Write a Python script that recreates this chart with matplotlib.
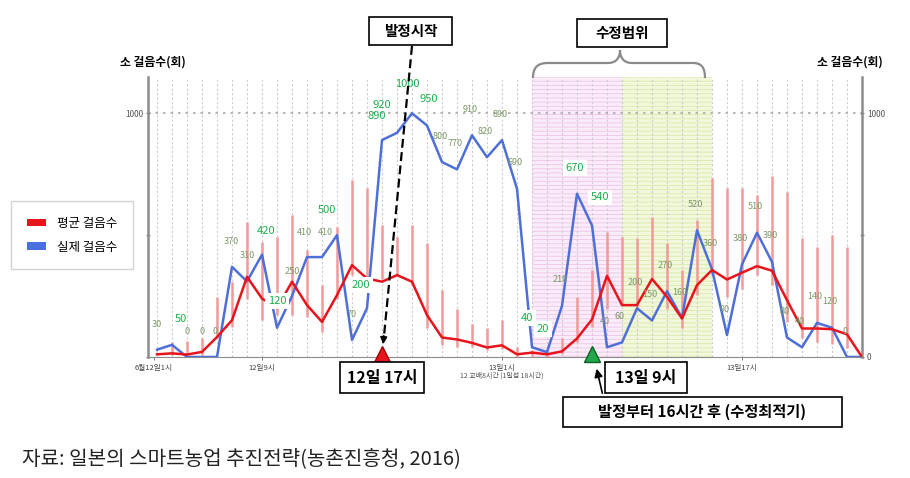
import numpy as np
import matplotlib.pyplot as plt
from matplotlib.patches import Patch, PathPatch, Rectangle
from matplotlib.path import Path
from matplotlib.lines import Line2D

plt.rcParams['font.family'] = ['Noto Sans CJK KR', 'DejaVu Sans']
plt.rcParams['hatch.linewidth'] = 0.6

W, H = 910, 478

# hourly data (index 0 = first hour on the axis)
hours = np.arange(48)

# 실제 걸음수 (blue line)
actual = [30, 50, 0, 0, 0, 370, 310, 420, 120, 250, 410, 410, 500, 70, 200,
          890, 920, 1000, 950, 800, 770, 910, 820, 890, 690, 40, 20, 210, 670, 540,
          40, 60, 200, 150, 270, 160, 520, 360, 90, 380, 510, 390, 80, 40, 140, 120, 0, 0]

# 평균 걸음수 (red line)
mean = [11, 15, 10, 21, 82, 151, 329, 240, 200, 309, 213, 144, 254, 377, 322,
        309, 336, 309, 172, 80, 72, 58, 39, 48, 11, 18, 11, 23, 76, 154,
        333, 213, 213, 320, 247, 158, 295, 357, 318, 346, 373, 354, 233, 117, 117, 114, 93, 0]

# range bars around the mean
bar_lo = [np.nan, 7, 0, 7, 76, 123, 240, 151, 172, 172, 165, 103, 240, 336, 322,
          322, 336, 295, 117, 48, 41, 41, 28, 33, 0, 5, 0, 14, 62, 123,
          199, 213, 199, 316, 199, 117, 254, 336, 247, 281, 336, 295, 144, 76, 62, 55, 35, np.nan]
bar_hi = [np.nan, 62, 64, 77, 247, 309, 556, 473, 494, 583, 439, 295, 535, 727, 693,
          542, 494, 542, 466, 274, 199, 137, 117, 151, 41, 28, 20, 76, 247, 357,
          514, 494, 487, 576, 466, 357, 562, 734, 693, 693, 665, 741, 679, 487, 453, 501, 453, np.nan]

xtick_pos = [-0.2, 7, 23, 39]
xtick_labels = ['6월12일1시', '12일9시', '13일1시', '13일17시']

estrus_start = 15      # 발정시작 (12일 17시)
best_time = 29         # 수정최적기 (13일 9시)
pink_span = (25, 31)
green_span = (31, 37)

bright = {1, 7, 8, 12, 14, 15, 16, 17, 18, 25, 26, 28, 29}
boxed = {8, 14, 25, 26, 28, 29}
label_offset = {0: (0, 25), 1: (9, 26), 2: (0, 26), 3: (0, 26), 5: (-1, 25), 6: (0, 26),
                7: (4, 24), 8: (0, 27), 9: (0, 25), 10: (-3, 25), 11: (3, 25),
                12: (-10, 25), 13: (0, 25),
                14: (-6, 23), 15: (-5, 24), 16: (-15, 28), 17: (-5, 29), 18: (2, 26),
                25: (-5, 29), 26: (-4, 23), 29: (8, 28)}

fig = plt.figure(figsize=(W / 100, H / 100), dpi=100)
ax = fig.add_axes([148 / W, 1 - 357 / H, 714 / W, 280 / H])
ax.set_xlim(-0.6, 47.0)
ax.set_ylim(0, 1149)

# shaded ranges
ax.axvspan(*pink_span, facecolor='#fbecf9', edgecolor='#eec4e8', hatch='----', lw=0, zorder=0)
ax.axvspan(*green_span, facecolor='#f2f8de', edgecolor='#d9eaa6', hatch='----', lw=0, zorder=0)

# grid
ax.vlines(hours, 0, 1149, color='#cccccc', linestyles=(0, (2, 2)), lw=0.8, zorder=1)
ax.axhline(1000, color='#aaaaaa', ls=(0, (1.5, 3)), lw=1.2, zorder=1)

# range bars and lines
ax.vlines(hours, bar_lo, bar_hi, color='#f29a9a', lw=1.8, zorder=2)
ax.plot(hours, actual, color='#4f6fd8', lw=1.8, zorder=3)
ax.plot(hours, mean, color='#e8141c', lw=1.8, zorder=4)

# value labels
for i, v in enumerate(actual[:-1]):
    dx, dy = label_offset.get(i, (-2, 26))
    if i in bright:
        kw = dict(fontsize=8, color='#1fae4b')
    else:
        kw = dict(fontsize=6.5, color='#7a9866')
    if i in boxed:
        kw['bbox'] = dict(boxstyle='square,pad=0.25', fc='white', ec='none')
    ax.annotate(str(v), (i, v), xytext=(dx, dy), textcoords='offset pixels',
                ha='center', va='center', zorder=7, **kw)

# markers on the baseline
ax.plot(estrus_start, 14, marker='^', ms=11, color='#e8141c', mec='#a00000',
        clip_on=False, zorder=8)
ax.plot(best_time, 14, marker='^', ms=11, color='#22a84a', mec='#0b5e25',
        clip_on=False, zorder=8)

# axes styling
for s in ['left', 'right']:
    ax.spines[s].set_color('#8c8c8c')
    ax.spines[s].set_linewidth(1.8)
ax.spines['bottom'].set_color('#8c8c8c')
ax.spines['top'].set_visible(False)
ax.set_yticks([0, 500, 1000])
ax.set_yticklabels(['', '', '1000'], fontsize=6, color='#555555')
ax.tick_params(axis='y', length=3, width=1, color='#888888', direction='inout', pad=2)
ax.set_xticks(xtick_pos)
ax.set_xticklabels(xtick_labels, fontsize=5.5, color='#444444')
ax.tick_params(axis='x', length=2, color='#888888', pad=3)

ax2 = ax.twinx()
ax2.set_ylim(ax.get_ylim())
ax2.set_yticks([0, 500, 1000])
ax2.set_yticklabels(['0', '', '1000'], fontsize=6, color='#555555')
ax2.tick_params(axis='y', length=3, width=1, color='#888888', direction='inout', pad=2)
for s in ax2.spines.values():
    s.set_visible(False)

ax.text(23, -75, '12 교배8시간 (1일섭 18시간)', ha='center', va='center',
        fontsize=5, color='#555555')

fig.text(153 / W, 1 - 62 / H, '소 걸음수(회)', ha='center', va='center',
         fontsize=8.5, fontweight='bold')
fig.text(850 / W, 1 - 62 / H, '소 걸음수(회)', ha='center', va='center',
         fontsize=8.5, fontweight='bold')


def box(x0, y0, x1, y1, text, size):
    fig.add_artist(Rectangle((x0 / W, 1 - y1 / H), (x1 - x0) / W, (y1 - y0) / H,
                             transform=fig.transFigure, fc='white', ec='black', lw=1.2, zorder=9))
    fig.text((x0 + x1) / 2 / W, 1 - (y0 + y1) / 2 / H, text, ha='center', va='center',
             fontsize=size, fontweight='bold', zorder=10)


box(369, 17, 452, 45, '발정시작', 10.5)
box(577, 19, 667, 47, '수정범위', 10.5)
box(340, 362, 424, 393, '12일 17시', 11.5)
box(605, 362, 687, 393, '13일 9시', 11.5)
box(563, 397, 842, 427, '발정부터 16시간 후 (수정최적기)', 11)

# dashed arrow from 발정시작
fig.add_artist(Line2D([412 / W, 384 / W], [1 - 46 / H, 1 - 336 / H], transform=fig.transFigure,
                      color='black', lw=1.6, ls=(0, (4, 2)), zorder=9))
fig.add_artist(plt.Annotation('', xy=(383, H - 347), xytext=(384, H - 333),
                              xycoords='figure pixels', textcoords='figure pixels',
                              arrowprops=dict(arrowstyle='-|>', color='black', lw=1.2,
                                              mutation_scale=10)))
# small arrow towards green marker
fig.add_artist(plt.Annotation('', xy=(596, H - 366), xytext=(603, H - 396),
                              xycoords='figure pixels', textcoords='figure pixels',
                              arrowprops=dict(arrowstyle='-|>', color='black', lw=1.2,
                                              mutation_scale=12)))

# curly brace over 수정범위
pts = [(533, 78), (533, 67), (538, 63), (548, 63), (608, 63),
       (616, 63), (620, 58), (620, 50),
       (620, 58), (624, 63), (632, 63), (693, 63),
       (701, 63), (705, 67), (705, 78)]
codes = [Path.MOVETO, Path.CURVE4, Path.CURVE4, Path.CURVE4, Path.LINETO,
         Path.CURVE4, Path.CURVE4, Path.CURVE4,
         Path.CURVE4, Path.CURVE4, Path.CURVE4, Path.LINETO,
         Path.CURVE4, Path.CURVE4, Path.CURVE4]
brace = Path([(x / W, 1 - y / H) for x, y in pts], codes)
fig.add_artist(PathPatch(brace, transform=fig.transFigure, fc='none', ec='#8a8a8a', lw=1.6))

# legend
handles = [Patch(fc='#e8141c', label='평균 걸음수'), Patch(fc='#4a6fe0', label='실제 걸음수')]
fig.legend(handles=handles, loc='upper left', bbox_to_anchor=(5 / W, 1 - 195 / H),
           frameon=True, fancybox=False, edgecolor='#c8c8c8', fontsize=9,
           handlelength=1.5, handleheight=0.55, borderpad=1.25, labelspacing=0.85,
           handletextpad=0.9)

fig.text(22 / W, 1 - 459 / H, '자료: 일본의 스마트농업 추진전략(농촌진흥청, 2016)',
         ha='left', va='center', fontsize=14.5, color='#222222')

fig.savefig('out.png', dpi=100)
